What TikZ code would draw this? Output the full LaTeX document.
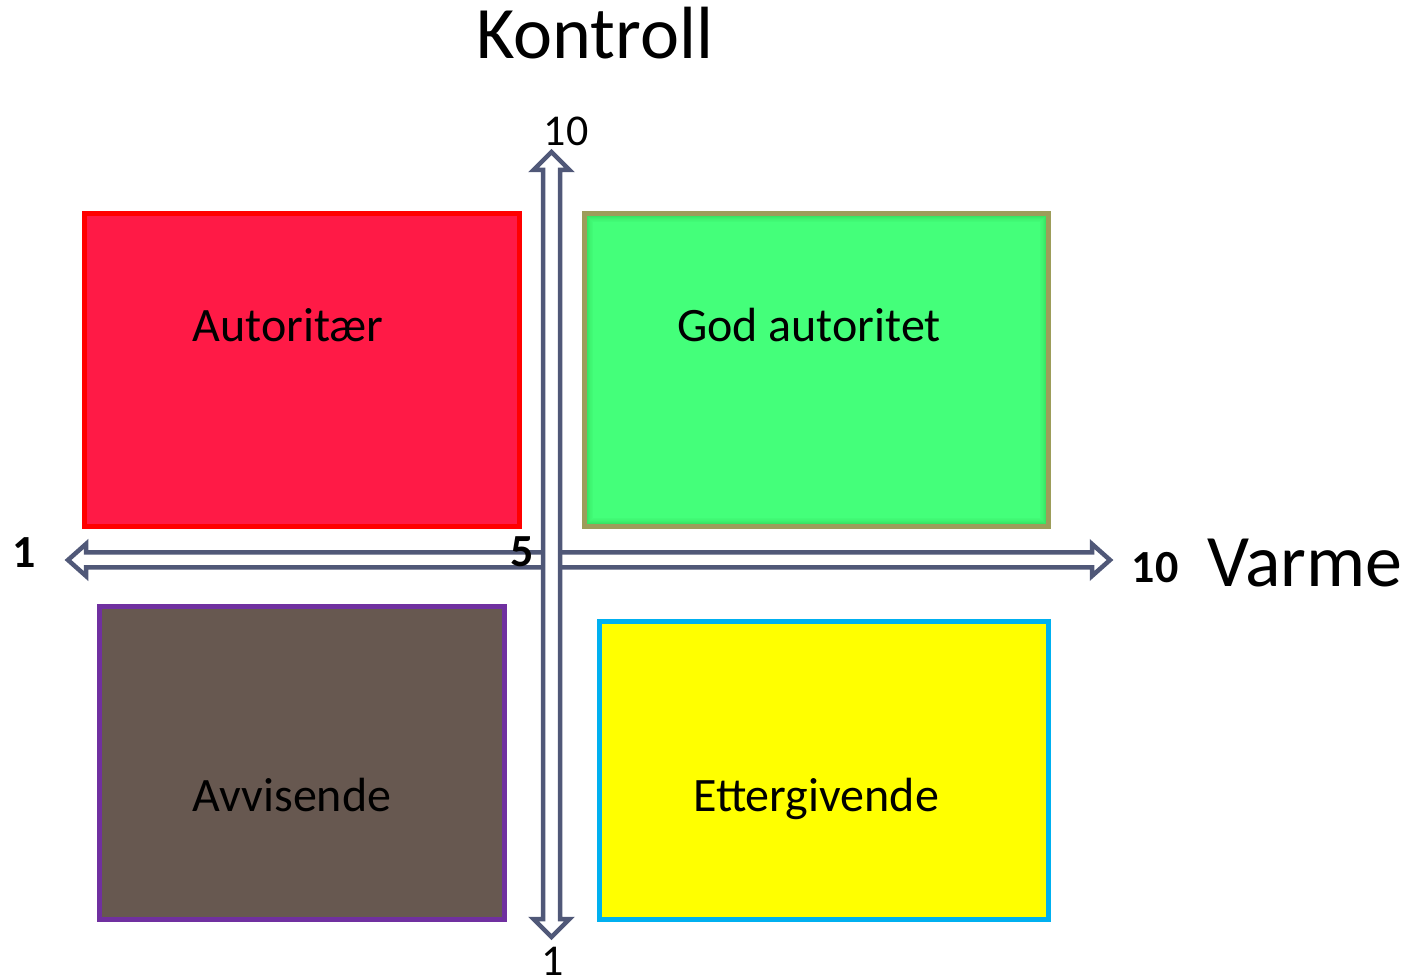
\documentclass[tikz,border=0pt]{standalone}
\usepackage{fontspec}
\setmainfont{Carlito}
\usetikzlibrary{calc}
\definecolor{boxred}{RGB}{255,26,70}
\definecolor{edgered}{RGB}{255,0,0}
\definecolor{boxgreen}{RGB}{68,255,122}
\definecolor{edgeolive}{RGB}{157,157,90}
\definecolor{boxbrown}{RGB}{103,88,80}
\definecolor{edgepurple}{RGB}{112,48,160}
\definecolor{boxyellow}{RGB}{255,255,0}
\definecolor{edgecyan}{RGB}{0,176,240}
\definecolor{axiscol}{RGB}{80,88,120}
\begin{document}
\begin{tikzpicture}[x=0.75pt,y=-0.75pt,
  quad/.style={rectangle,line width=5pt*0.75,inner sep=0pt,outer sep=0pt,anchor=north west},
  boxlbl/.style={inner sep=0pt,anchor=base,font=\fontsize{36}{43}\selectfont,text=black},
  axisarrow/.style={draw=axiscol,fill=white,line width=4.5pt*0.75,line join=miter},
  ticklbl/.style={inner sep=0pt,anchor=base,font=\fontsize{33}{40}\selectfont},
  boldlbl/.style={inner sep=0pt,anchor=base,font=\fontsize{34.5}{40}\selectfont\bfseries},
  biglbl/.style={inner sep=0pt,anchor=base,font=\fontsize{55.5}{66}\selectfont}]
\useasboundingbox (0,0) rectangle (1422,980);
% quadrant boxes
\node[quad,draw=edgered,fill=boxred,minimum width=435*0.75pt,minimum height=313*0.75pt] (aut) at (84.5,213.5) {};
\node[quad,draw=edgeolive,fill=boxgreen,minimum width=464*0.75pt,minimum height=313*0.75pt] (god) at (584.5,213.5) {};
\foreach \i/\o in {2/0.22,3/0.18,4/0.14,5/0.10,6/0.07,7/0.05,8/0.03}{
  \draw[green!45!black,opacity=\o,line width=0.75pt]
    ([xshift=\i*0.75pt,yshift=-\i*0.75pt]god.north west) rectangle ([xshift=-\i*0.75pt,yshift=\i*0.75pt]god.south east);
}
\draw[edgeolive,line width=5pt*0.75] (god.north west) rectangle (god.south east);
\node[quad,draw=edgepurple,fill=boxbrown,minimum width=405*0.75pt,minimum height=313*0.75pt] (avv) at (99.5,606.5) {};
\node[quad,draw=edgecyan,fill=boxyellow,minimum width=449*0.75pt,minimum height=298*0.75pt] (ett) at (599.5,621.5) {};
% box labels
\node[boxlbl] (autl) at (288,342) {Autoritær};
\node[boxlbl] (godl) at (809,342) {God autoritet};
\node[boxlbl] (avvl) at (292,811) {Avvisende};
\node[boxlbl] (ettl) at (816,811) {Ettergivende};
% axes
\coordinate (hl) at (68,560);
\coordinate (hr) at (1110,560);
\coordinate (vt) at (551.5,152);
\coordinate (vb) at (551.5,937);
\draw[axisarrow] (hl) -- ++(18,-16) -- ++(0,8.5) -- ($(hr)+(-18,-7.5)$) -- ++(0,-8.5) -- (hr) -- ++(-18,16) -- ++(0,-8.5) -- ($(hl)+(18,7.5)$) -- ++(0,8.5) -- cycle;
\draw[axisarrow] (vt) -- ++(18,18) -- ++(-9.5,0) -- ($(vb)+(8.5,-18)$) -- ++(9.5,0) -- (vb) -- ++(-18,-18) -- ++(9.5,0) -- ($(vt)+(-8.5,18)$) -- ++(-9.5,0) -- cycle;
% axis labels
\node[ticklbl] (t10) at (566,146) {10};
\node[ticklbl] (t1) at (553,975) {1};
\node[boldlbl] (l1) at (24,568) {1};
\node[boldlbl] (l5) at (522,566) {5};
\node[boldlbl] (l10) at (1155,583) {10};
\node[biglbl] (kon) at (595,59) {Kontroll};
\node[biglbl] (var) at (1305,587) {Varme};
\end{tikzpicture}
\end{document}
